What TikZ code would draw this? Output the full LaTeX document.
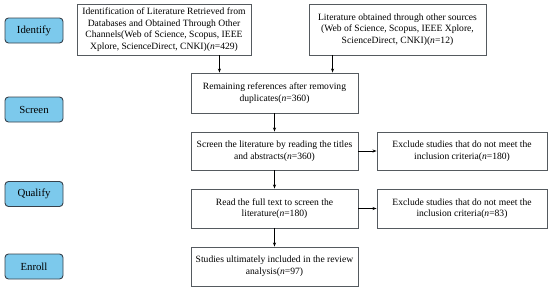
\documentclass[tikz,border=0pt]{standalone}
\usepackage{fontspec}
\setmainfont{Liberation Serif}
\usetikzlibrary{arrows.meta}
\definecolor{btnfill}{RGB}{124,201,236}
\definecolor{btnline}{RGB}{55,65,75}
\definecolor{boxline}{RGB}{85,90,95}
\tikzset{
  x=1pt,y=-1pt,
  stage/.style={draw=btnline,fill=btnfill,rounded corners=3.5pt,line width=0.9pt,
    minimum width=58pt,minimum height=25pt,inner sep=0pt,font=\fontsize{10.8}{12}\selectfont},
  pbox/.style={draw=boxline,line width=0.9pt,align=center,inner sep=0pt,
    font=\fontsize{9.6}{11.6}\selectfont},
  arr/.style={-{Stealth[length=4pt,width=3pt]},line width=0.8pt,black},
}
\begin{document}
\begin{tikzpicture}
\useasboundingbox (0,0) rectangle (550,290);
\node[stage] (id) at (34,30.5) {Identify};
\node[stage] (sc) at (34,109.5) {Screen};
\node[stage] (qu) at (34,194) {Qualify};
\node[stage] (en) at (34,266.5) {Enroll};

\node[pbox,minimum width=174pt,minimum height=51pt] (A) at (164,29.5)
  {Identification of Literature Retrieved from\\Databases and Obtained Through Other\\Channels(Web of Science, Scopus, IEEE\\Xplore, ScienceDirect, CNKI)(\textit{n}=429)};
\node[pbox,minimum width=177pt,minimum height=51pt] (B) at (397.5,29.5)
  {Literature obtained through other sources\\(Web of Science, Scopus, IEEE Xplore,\\ScienceDirect, CNKI)(\textit{n}=12)};
\node[pbox,minimum width=167pt,minimum height=40pt] (R) at (274.5,93)
  {Remaining references after removing\\duplicates(\textit{n}=360)};
\node[pbox,minimum width=167pt,minimum height=38pt] (S) at (274.5,151)
  {Screen the literature by reading the titles\\and abstracts(\textit{n}=360)};
\node[pbox,minimum width=170pt,minimum height=38pt] (E1) at (462,151)
  {Exclude studies that do not meet the\\inclusion criteria(\textit{n}=180)};
\node[pbox,minimum width=167pt,minimum height=39pt] (Q) at (274.5,208.5)
  {Read the full text to screen the\\literature(\textit{n}=180)};
\node[pbox,minimum width=170pt,minimum height=39pt] (E2) at (462,208.5)
  {Exclude studies that do not meet the\\inclusion criteria(\textit{n}=83)};
\node[pbox,minimum width=167pt,minimum height=39pt] (F) at (274.5,266.5)
  {Studies ultimately included in the review\\analysis(\textit{n}=97)};

\coordinate (a1) at ([xshift=-32pt]A.south east);
\coordinate (b1) at ([xshift=24pt]B.south west);
\draw[arr] (a1) -- (a1 |- R.north);
\draw[arr] (b1) -- (b1 |- R.north);
\draw[arr] (R) -- (S);
\draw[arr] (S) -- (Q);
\draw[arr] (Q) -- (F);
\draw[arr] (S) -- (E1);
\draw[arr] (Q) -- (E2);
\end{tikzpicture}
\end{document}
